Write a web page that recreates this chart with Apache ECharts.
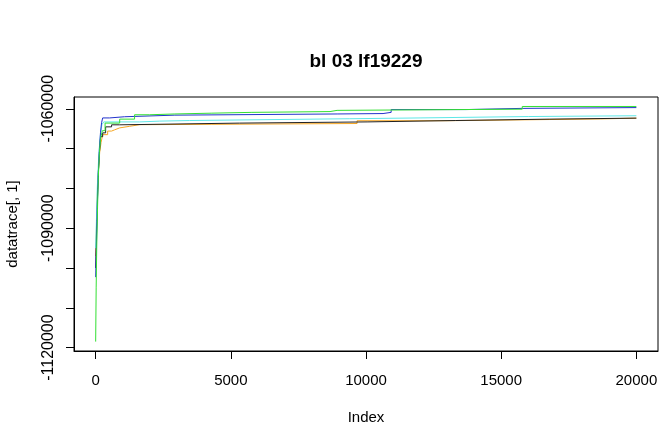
<!DOCTYPE html>
<html>
<head>
<meta charset="utf-8">
<script src="https://cdn.jsdelivr.net/npm/echarts@6/dist/echarts.min.js"></script>
<style>html,body{margin:0;padding:0;background:#fff;}#c{width:668px;height:430px;}</style>
</head>
<body>
<div id="c"></div>
<script>
// ---- data (index, value) step points ----
const xTicks = [0, 5000, 10000, 15000, 20000];
const yTicks = [-1120000, -1110000, -1100000, -1090000, -1080000, -1070000, -1060000];
const yLabels = [-1120000, -1090000, -1060000];

const orangeTrace = [[1,-1097000],[30,-1090000],[60,-1082000],[100,-1076000],[150,-1071000],[200,-1068500],[260,-1066500],[445,-1065600],[590,-1065300],[700,-1064800],[890,-1064400],[1260,-1064000],[1630,-1063900],[4300,-1063700],[9670,-1063000],[13000,-1062550],[18670,-1062350],[20000,-1062350]];
const blackTrace = [[1,-1100000],[30,-1092000],[60,-1084000],[100,-1076000],[140,-1071000],[185,-1067000],[260,-1066050],[370,-1064540],[590,-1064030],[890,-1063600],[5330,-1063300],[10040,-1062950],[13300,-1062600],[16800,-1062350],[20000,-1062350]];
const cyanTrace = [[1,-1095000],[30,-1088000],[60,-1080000],[100,-1074000],[140,-1069500],[180,-1066500],[230,-1064000],[300,-1063300],[1630,-1063100],[2370,-1062950],[3480,-1062500],[9400,-1062300],[12000,-1061950],[16000,-1061750],[20000,-1061750]];
const blueTrace = [[1,-1102300],[30,-1094000],[60,-1085000],[100,-1076000],[140,-1070000],[180,-1066000],[220,-1063500],[260,-1062300],[520,-1062000],[1070,-1061600],[2930,-1061300],[8960,-1061200],[10630,-1060900],[10930,-1060200],[13700,-1059900],[15780,-1059700],[20000,-1059700]];
const greenTrace = [[1,-1118500],[20,-1105000],[40,-1095000],[70,-1085000],[100,-1077000],[140,-1071000],[180,-1067500],[250,-1065500],[350,-1063600],[890,-1062600],[1440,-1061500],[2000,-1061300],[2930,-1061100],[4300,-1060900],[5780,-1060700],[8670,-1060400],[8930,-1060100],[15780,-1059420],[20000,-1059420]];

const FONT = "'Liberation Sans', Arial, sans-serif";
function line(name, data, color) {
  return {name, type:'line', data, step:'end', showSymbol:false, symbol:'none',
    lineStyle:{color, width:1}, itemStyle:{color}, animation:false, silent:true};
}
const plain = v => String(v);
const chart = echarts.init(document.getElementById('c'), null, {renderer:'canvas'});
chart.setOption({
  backgroundColor:'#fff',
  animation:false,
  title:{text:'bl 03 lf19229', left:361, top:47, textAlign:'center',
    textStyle:{fontFamily:FONT, fontWeight:'bold', fontSize:19, color:'#000'}},
  grid:{left:74, top:97, width:584, height:254, show:true, borderColor:'#000', borderWidth:1,
    backgroundColor:'transparent', containLabel:false, outerBoundsMode:'none'},
  xAxis:{type:'value', min:-800, max:20800, position:'bottom',
    name:'Index', nameLocation:'middle', nameGap:59,
    nameTextStyle:{fontFamily:FONT, fontSize:15, color:'#000'},
    axisLine:{show:true, onZero:false, lineStyle:{color:'#000', width:1}}, splitLine:{show:false},
    axisTick:{show:true, customValues:xTicks, length:8, lineStyle:{color:'#000'}},
    axisLabel:{customValues:xTicks, formatter:plain, margin:22, fontFamily:FONT, fontSize:15, color:'#000'}},
  yAxis:{type:'value', min:-1120860, max:-1057040, position:'left',
    name:'datatrace[, 1]', nameLocation:'middle', nameRotate:90, nameGap:54,
    nameTextStyle:{fontFamily:FONT, fontSize:15, color:'#000'},
    axisLine:{show:true, onZero:false, lineStyle:{color:'#000', width:1}}, splitLine:{show:false},
    axisTick:{show:true, customValues:yTicks, length:8, lineStyle:{color:'#000'}},
    axisLabel:{customValues:yLabels, formatter:plain, rotate:90, margin:17, fontFamily:FONT, fontSize:16, color:'#000'}},
  series:[
    line('orange', orangeTrace, '#f5a623'),
    line('black', blackTrace, '#222222'),
    line('cyan', cyanTrace, '#5fe8e8'),
    line('blue', blueTrace, '#2233cc'),
    line('green', greenTrace, '#33e033')
  ]
});
</script>
</body>
</html>
